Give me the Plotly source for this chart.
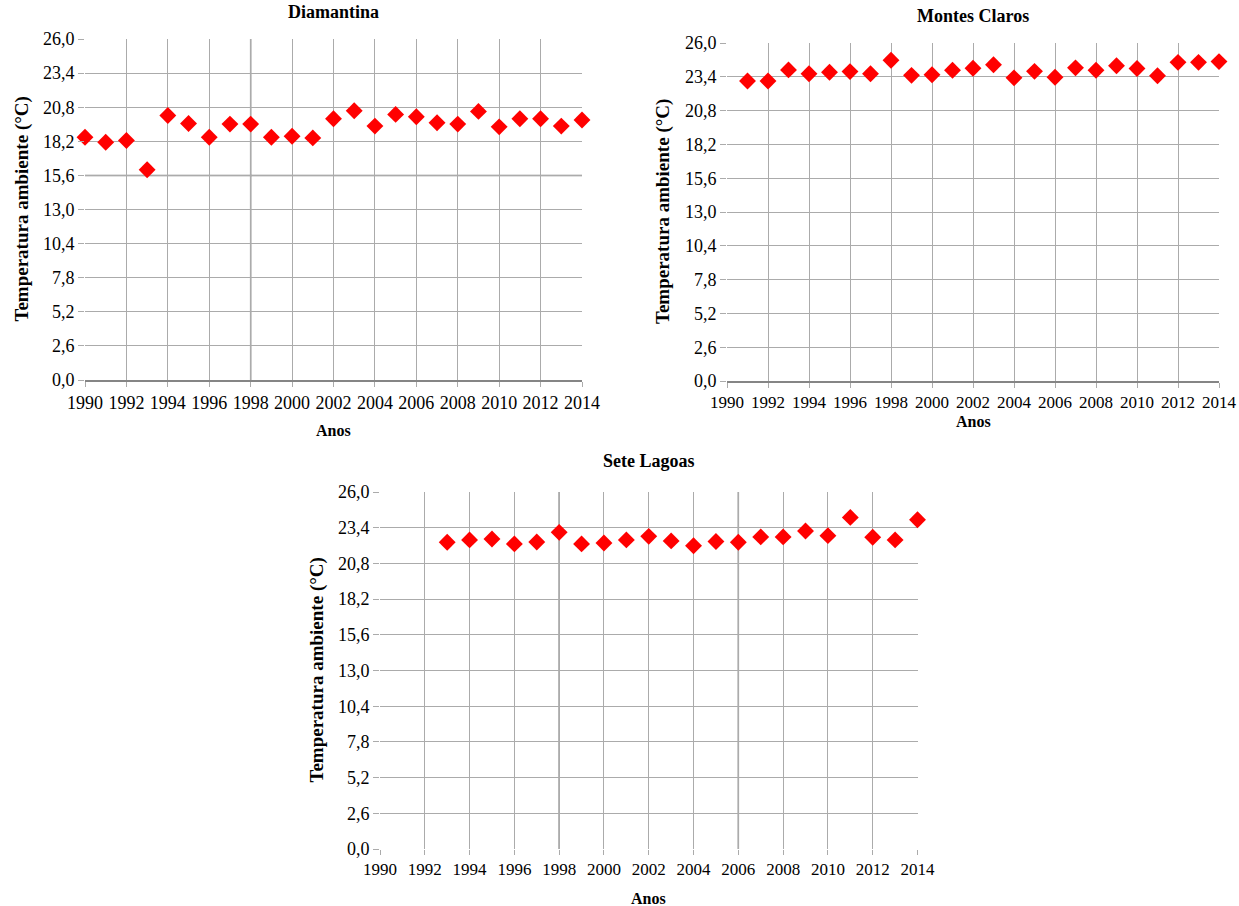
import plotly.graph_objects as go

W, H = 1239, 906
OFF = 0  # page body margin (removed via post_script)

years_full = list(range(1990, 2015))
diamantina = [18.51, 18.13, 18.26, 16.03, 20.17, 19.56, 18.51, 19.51, 19.51, 18.51,
              18.59, 18.46, 19.92, 20.53, 19.36, 20.25, 20.07, 19.61, 19.51, 20.48,
              19.30, 19.92, 19.92, 19.36, 19.82]

years_mc = list(range(1991, 2015))
montes_claros = [23.08, 23.08, 23.93, 23.64, 23.75, 23.80, 23.64, 24.67, 23.51, 23.56,
                 23.90, 24.06, 24.33, 23.32, 23.82, 23.37, 24.09, 23.90, 24.25, 24.04,
                 23.48, 24.51, 24.51, 24.57]

years_sl = list(range(1993, 2015))
sete_lagoas = [22.34, 22.51, 22.58, 22.22, 22.36, 23.06, 22.22, 22.29, 22.51, 22.77,
               22.44, 22.08, 22.39, 22.34, 22.73, 22.73, 23.16, 22.82, 24.15, 22.70,
               22.51, 23.98]

titles = ["Diamantina", "Montes Claros", "Sete Lagoas"]
y_ticks = [0, 2.6, 5.2, 7.8, 10.4, 13.0, 15.6, 18.2, 20.8, 23.4, 26.0]
x_ticks = list(range(1990, 2015, 2))
y_title = "Temperatura ambiente (°C)"
x_title = "Anos"

FONT = "Liberation Serif"
GRID = "#ababab"
DARK = "#858585"

# panel pixel boxes (screen coords): left, right, top, bottom
boxes = [(85, 582, 39, 380), (727, 1219, 43, 381), (380, 917.5, 492, 849)]
xtick_sizes = [18, 17, 17]

def fx(px):
    return (px - OFF) / W

def fy(py):
    return 1 - (py - OFF) / H

fig = go.Figure()
series = [(years_full, diamantina), (years_mc, montes_claros), (years_sl, sete_lagoas)]
for i, (xs, ys) in enumerate(series):
    sfx = "" if i == 0 else str(i + 1)
    fig.add_trace(go.Scatter(x=xs, y=ys, mode="markers",
                             marker=dict(symbol="diamond", size=13, color="#ff0000"),
                             xaxis="x" + sfx, yaxis="y" + sfx, cliponaxis=False,
                             showlegend=False))

layout = dict(width=W, height=H, margin=dict(l=0, r=0, t=0, b=0, pad=0, autoexpand=False),
              paper_bgcolor="white", plot_bgcolor="white",
              separators=",.", font=dict(family=FONT, size=16, color="black"),
              showlegend=False)
annotations = []
shapes = []
for i, (l, r, t, b) in enumerate(boxes):
    sfx = "" if i == 0 else str(i + 1)
    bottom_line = i < 2
    layout["xaxis" + sfx] = dict(domain=[fx(l), fx(r)], range=[1990, 2014],
                                 anchor="y" + sfx, tickvals=x_ticks,
                                 showgrid=True, gridcolor=GRID, gridwidth=1,
                                 ticks="outside", ticklen=5, tickcolor=GRID,
                                 showline=bottom_line, linecolor=DARK, linewidth=2,
                                 zeroline=False, automargin=False,
                                 tickfont=dict(size=xtick_sizes[i], family=FONT),
                                 fixedrange=True)
    layout["yaxis" + sfx] = dict(domain=[fy(b), fy(t)], range=[0, 26],
                                 anchor="x" + sfx, tickvals=y_ticks, tickformat=".1f",
                                 showgrid=True, gridcolor=GRID, gridwidth=1,
                                 ticks="outside", ticklen=6, tickcolor=GRID,
                                 showline=False, zeroline=not bottom_line,
                                 zerolinecolor="white", zerolinewidth=1, automargin=False,
                                 tickfont=dict(size=18, family=FONT), fixedrange=True)
    cx = (l + r) / 2
    annotations.append(dict(text="<b>%s</b>" % titles[i], x=fx(cx), y=fy(t - 27 if i < 2 else t - 31),
                            xref="paper", yref="paper", showarrow=False,
                            xanchor="center", yanchor="middle",
                            font=dict(size=18, family=FONT)))
    annotations.append(dict(text="<b>%s</b>" % x_title, x=fx(cx), y=fy(b + (50 if i == 0 else 41 if i == 1 else 49)),
                            xref="paper", yref="paper", showarrow=False,
                            xanchor="center", yanchor="middle",
                            font=dict(size=16, family=FONT)))
    annotations.append(dict(text="<b>%s</b>" % y_title, x=fx(l - 64), y=fy((t + b) / 2),
                            xref="paper", yref="paper", showarrow=False, textangle=-90,
                            xanchor="center", yanchor="middle",
                            font=dict(size=19, family=FONT)))

# darker grid lines seen in the reference
dark_v = [(0, 1998), (2, 1998), (2, 2006)]
dark_h = [(0, 15.6)]
for i, xv in dark_v:
    sfx = "" if i == 0 else str(i + 1)
    shapes.append(dict(type="line", xref="x" + sfx, yref="y" + sfx, x0=xv, x1=xv, y0=0, y1=26,
                       line=dict(color=DARK, width=1.5), layer="below"))
for i, yv in dark_h:
    sfx = "" if i == 0 else str(i + 1)
    shapes.append(dict(type="line", xref="x" + sfx, yref="y" + sfx, x0=1990, x1=2014, y0=yv, y1=yv,
                       line=dict(color=DARK, width=1.5), layer="below"))

layout["annotations"] = annotations
layout["shapes"] = shapes
fig.update_layout(**layout)
fig.write_html("out.html", config={"displayModeBar": False, "staticPlot": True},
               post_script="document.body.style.margin='0px';document.body.style.overflow='hidden';")
